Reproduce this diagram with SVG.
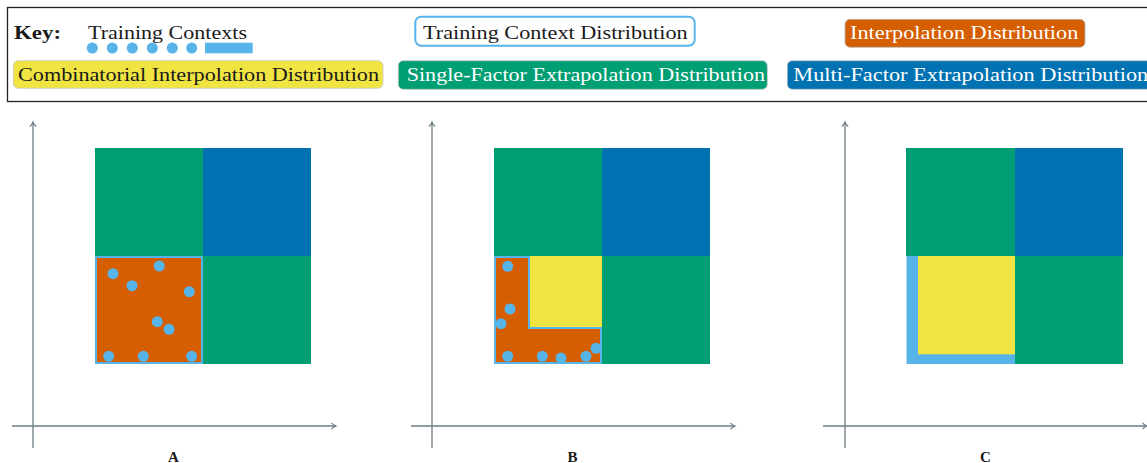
<svg xmlns="http://www.w3.org/2000/svg" width="1147" height="463" viewBox="0 0 1147 463">
<defs>
<style>
.t{font-family:"Liberation Serif","DejaVu Serif",serif;font-size:18.5px}
.w{fill:#ffffff}
.k{fill:#1a1a1a}
.ax{stroke:#6e7d84;stroke-width:1.3;fill:none}
.dot{fill:#56B4E9}
.lbl{font-family:"Liberation Serif","DejaVu Serif",serif;font-size:15px;font-weight:bold;fill:#1a1a1a;text-anchor:middle}
.g{fill:#009E73}.b{fill:#0072B2}.o{fill:#D55E00}.y{fill:#F0E442}.lb{fill:#56B4E9}
</style>
<marker id="ah" markerWidth="10" markerHeight="10" refX="6" refY="5" orient="auto" markerUnits="userSpaceOnUse">
<path d="M1.5,1.8 Q3.5,4.2 6,5 Q3.5,5.8 1.5,8.2" fill="none" stroke="#6e7d84" stroke-width="1.1"/>
</marker>
</defs>
<rect width="1147" height="463" fill="#ffffff"/>
<g id="key">
<rect x="7.5" y="7.5" width="1150" height="94" fill="#ffffff" stroke="#222" stroke-width="1.3"/>
<text x="14" y="39" class="t k" font-weight="bold" textLength="47" lengthAdjust="spacingAndGlyphs">Key:</text>
<text x="88" y="38.5" class="t k" textLength="159" lengthAdjust="spacingAndGlyphs">Training Contexts</text>
<circle cx="92.3" cy="48" r="5.5" class="dot"/>
<circle cx="112.3" cy="48" r="5.5" class="dot"/>
<circle cx="132.3" cy="48" r="5.5" class="dot"/>
<circle cx="152.3" cy="48" r="5.5" class="dot"/>
<circle cx="172.3" cy="48" r="5.5" class="dot"/>
<circle cx="191.7" cy="48" r="5.5" class="dot"/>
<rect x="205" y="42.7" width="47.7" height="10.6" class="lb"/>
<rect x="415.3" y="16.7" width="279.4" height="29" rx="6" fill="#ffffff" stroke="#56B4E9" stroke-width="2"/>
<text x="423" y="38.5" class="t k" textLength="264.7" lengthAdjust="spacingAndGlyphs">Training Context Distribution</text>
<rect x="845" y="19.3" width="240" height="28" rx="5" class="o" stroke="#b8b8b8" stroke-width="0.8"/>
<text x="850" y="38.5" class="t w" textLength="228.3" lengthAdjust="spacingAndGlyphs">Interpolation Distribution</text>
<rect x="13.3" y="60.7" width="369.7" height="27.6" rx="5" class="y" stroke="#c8c8c8" stroke-width="0.8"/>
<text x="18" y="80.5" class="t k" textLength="361" lengthAdjust="spacingAndGlyphs">Combinatorial Interpolation Distribution</text>
<rect x="398.3" y="60.7" width="369" height="28.6" rx="5" class="g" stroke="#c8c8c8" stroke-width="0.8"/>
<text x="406.7" y="80.5" class="t w" textLength="358.3" lengthAdjust="spacingAndGlyphs">Single-Factor Extrapolation Distribution</text>
<rect x="787.3" y="60.7" width="380" height="28.6" rx="5" class="b" stroke="#c8c8c8" stroke-width="0.8"/>
<text x="793.3" y="80.5" class="t w" textLength="355" lengthAdjust="spacingAndGlyphs">Multi-Factor Extrapolation Distribution</text>
</g>
<g id="connectors">
<line x1="33" y1="448" x2="33" y2="122" class="ax" marker-end="url(#ah)"/>
<line x1="12" y1="426" x2="336" y2="426" class="ax" marker-end="url(#ah)"/>
<line x1="432" y1="448" x2="432" y2="122" class="ax" marker-end="url(#ah)"/>
<line x1="411" y1="426" x2="735" y2="426" class="ax" marker-end="url(#ah)"/>
<line x1="845" y1="448" x2="845" y2="122" class="ax" marker-end="url(#ah)"/>
<line x1="823" y1="426" x2="1147" y2="426" class="ax" marker-end="url(#ah)"/>
</g>
<g id="panelA">
<rect x="95" y="148" width="108" height="108" class="g"/>
<rect x="203" y="148" width="108" height="108" class="b"/>
<rect x="203" y="256" width="108" height="108" class="g"/>
<rect x="96" y="257" width="106" height="106" class="o" stroke="#56B4E9" stroke-width="2"/>
<circle cx="113" cy="273.7" r="5.5" class="dot"/>
<circle cx="159.3" cy="266" r="5.5" class="dot"/>
<circle cx="132" cy="285.7" r="5.5" class="dot"/>
<circle cx="189.3" cy="291.7" r="5.5" class="dot"/>
<circle cx="157.3" cy="321.7" r="5.5" class="dot"/>
<circle cx="169" cy="329.3" r="5.5" class="dot"/>
<circle cx="108.7" cy="356.3" r="5.5" class="dot"/>
<circle cx="143.3" cy="356.3" r="5.5" class="dot"/>
<circle cx="191.7" cy="356.3" r="5.5" class="dot"/>
<text x="173.5" y="462" class="lbl">A</text>
</g>
<g id="panelB">
<rect x="494" y="148" width="108" height="108" class="g"/>
<rect x="602" y="148" width="108" height="108" class="b"/>
<rect x="602" y="256" width="108" height="108" class="g"/>
<rect x="529" y="256" width="73" height="72" class="y"/>
<path d="M495,257 H529 V328 H601 V363 H495 Z" class="o" stroke="#56B4E9" stroke-width="2"/>
<circle cx="507.7" cy="266.3" r="5.5" class="dot"/>
<circle cx="510" cy="309" r="5.5" class="dot"/>
<circle cx="501" cy="323.7" r="5.5" class="dot"/>
<circle cx="507.7" cy="356.3" r="5.5" class="dot"/>
<circle cx="542.3" cy="356.3" r="5.5" class="dot"/>
<circle cx="561" cy="358" r="5.5" class="dot"/>
<circle cx="586" cy="356.3" r="5.5" class="dot"/>
<circle cx="596" cy="348.3" r="5.5" class="dot"/>
<text x="572.5" y="462" class="lbl">B</text>
</g>
<g id="panelC">
<rect x="906" y="148" width="109" height="108" class="g"/>
<rect x="1015" y="148" width="108" height="108" class="b"/>
<rect x="1015" y="256" width="108" height="108" class="g"/>
<rect x="906.5" y="256" width="108.5" height="108" class="lb"/>
<rect x="918" y="256" width="97" height="98.3" class="y"/>
<text x="985.5" y="462" class="lbl">C</text>
</g>
</svg>
